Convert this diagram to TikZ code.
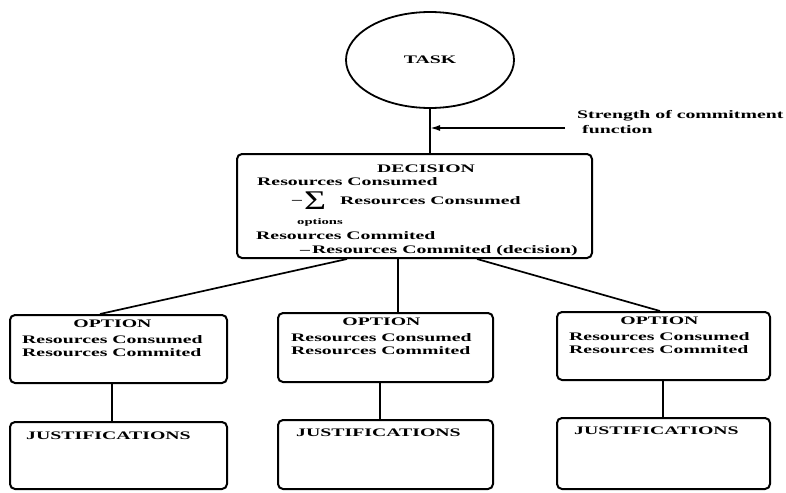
\documentclass[tikz,border=0pt]{standalone}
\usepackage{fontspec}
\newfontfamily\figfont[FakeStretch=1.72]{Liberation Serif}
\newfontfamily\sigmafont[FakeStretch=1.4]{Liberation Serif}
\usetikzlibrary{arrows.meta,shapes.geometric}

\begin{document}
\begin{tikzpicture}[x=1pt,y=-1pt,
  txtfont/.style={font=\figfont\bfseries\fontsize{11.5}{12.3}\selectfont},
  txt/.style={txtfont, inner sep=0pt, anchor=base west},
  box/.style={draw, line width=2pt, rounded corners=5pt, inner sep=0pt},
  link/.style={line width=1.7pt},
]
\useasboundingbox (0,0) rectangle (786,492);

% task and decision
\node[draw, ellipse, line width=1.8pt, minimum width=168pt, minimum height=96pt,
      inner sep=0pt, txtfont] (task) at (430,60) {TASK};
\node[box, minimum width=355pt, minimum height=104pt] (decision) at (414.5,206) {};

% options
\node[box, minimum width=217pt, minimum height=68pt] (optL) at (118.5,349) {};
\node[box, minimum width=215pt, minimum height=69pt] (optM) at (385.5,347.5) {};
\node[box, minimum width=213pt, minimum height=68pt] (optR) at (663.5,346) {};

% justifications
\node[box, minimum width=217pt, minimum height=67pt] (justL) at (118.5,455.5) {};
\node[box, minimum width=215pt, minimum height=69pt] (justM) at (385.5,454.5) {};
\node[box, minimum width=213pt, minimum height=71pt] (justR) at (663.5,453.5) {};

% connectors
\draw[link] (task.south) -- (task.south |- decision.north);
\coordinate (sc) at (565,128);
\draw[link, -{Latex[length=10pt,width=6pt]}] (sc) -- (sc -| task.south);

\draw[link] ([xshift=-67.5pt]decision.south) -- ([xshift=-18.5pt]optL.north);
\draw[link] ([xshift=-16.5pt]decision.south) -- ([xshift=12.5pt]optM.north);
\draw[link] ([xshift=62.5pt]decision.south) -- ([xshift=-3.5pt]optR.north);

\draw[link] ([xshift=-6.5pt]optL.south) -- ([xshift=-6.5pt]justL.north);
\draw[link] ([xshift=-5.5pt]optM.south) -- ([xshift=-5.5pt]justM.north);
\draw[link] ([xshift=-0.5pt]optR.south) -- ([xshift=-0.5pt]justR.north);

% label of the arrow
\node[txt] (sc1) at (577,118) {Strength of commitment};
\node[txt] (sc2) at (582,133) {function};

% decision contents
\node[txt] (dtitle) at (377,172) {DECISION};
\node[txt] (d1) at (257,185) {Resources Consumed};
\node[txt] (d2m) at (292,203) {–};
\node[inner sep=0pt, anchor=base west, font=\sigmafont\fontsize{27}{27}\selectfont] (d2s) at (304,209) {\smash{Σ}};
\node[txt] (d2) at (340,204) {Resources Consumed};
\node[txt, font=\figfont\bfseries\fontsize{8.5}{9}\selectfont] (d2o) at (297,224) {options};
\node[txt] (d4) at (256,239) {Resources Commited};
\node[txt] (d5) at (300,253) {–\hspace{2pt}Resources Commited (decision)};

% option contents
\node[txt] (oL) at ([xshift=13pt,yshift=-13pt]optL.north west)
  {\begin{tabular}[t]{@{}l@{}}\multicolumn{1}{c}{OPTION}\\[4.4pt] Resources Consumed\\ Resources Commited\end{tabular}};
\node[txt] (oM) at ([xshift=14pt,yshift=-13pt]optM.north west)
  {\begin{tabular}[t]{@{}l@{}}\multicolumn{1}{c}{OPTION}\\[4.4pt] Resources Consumed\\ Resources Commited\end{tabular}};
\node[txt] (oR) at ([xshift=13pt,yshift=-13pt]optR.north west)
  {\begin{tabular}[t]{@{}l@{}}\multicolumn{1}{c}{OPTION}\\[4.4pt] Resources Consumed\\ Resources Commited\end{tabular}};

% justification titles
\node[txt] (jL) at ([xshift=17pt,yshift=-18pt]justL.north west) {JUSTIFICATIONS};
\node[txt] (jM) at ([xshift=19pt,yshift=-17pt]justM.north west) {JUSTIFICATIONS};
\node[txt] (jR) at ([xshift=18pt,yshift=-17pt]justR.north west) {JUSTIFICATIONS};
\end{tikzpicture}
\end{document}
